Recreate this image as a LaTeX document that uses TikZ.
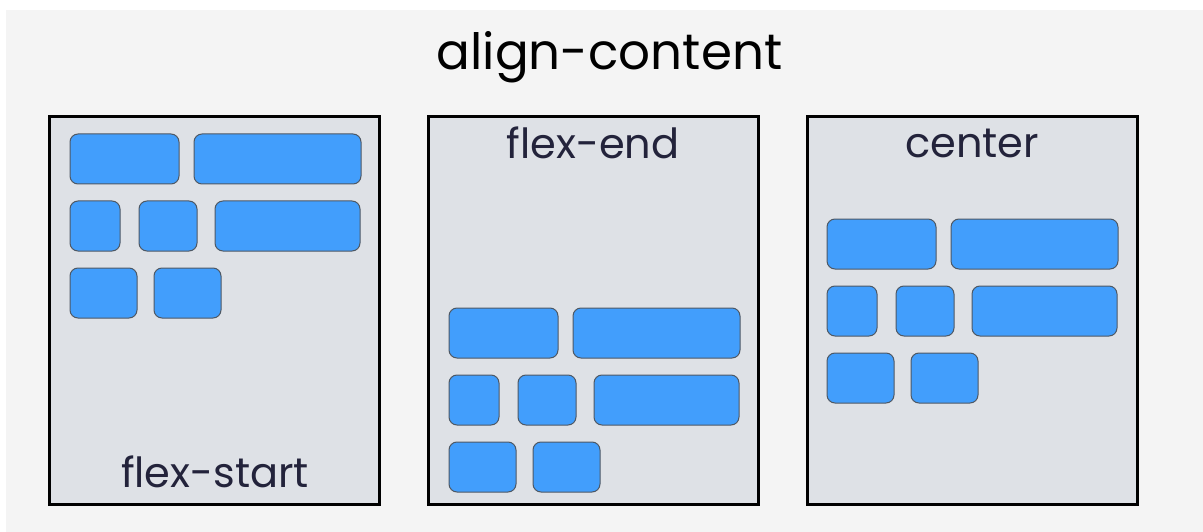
\documentclass[tikz,border=0pt]{standalone}
\usepackage{fontspec}
\setmainfont{Poppins}
\definecolor{pagebg}{HTML}{F4F4F4}
\definecolor{panelbg}{HTML}{DEE1E6}
\definecolor{itemblue}{HTML}{429EFC}
\definecolor{itemedge}{HTML}{4E5864}
\definecolor{labelink}{HTML}{23233B}
\tikzset{
  panel/.style={draw=black, line width=3pt, fill=panelbg, inner sep=0pt, outer sep=0pt, anchor=north west},
  item/.style={draw=itemedge, line width=1pt, fill=itemblue, rounded corners=8pt, inner sep=0pt, outer sep=0pt, anchor=north west},
  caption/.style={text=labelink, font=\fontsize{41.5}{44}\selectfont, anchor=base, inner sep=0pt},
  headline/.style={text=black, font=\fontsize{50}{54}\selectfont, anchor=base, inner sep=0pt}
}
% one flex item: name, left, top, width, height
\newcommand{\flexitem}[5]{\node[item, minimum width=#4pt, minimum height=#5pt] (#1) at (#2,#3) {};}
% the three wrapped rows of items inside a container, offset by (#2,#3)
\newcommand{\flexrows}[3]{%
  \flexitem{#1a}{#2+21}{#3}{109}{50}
  \flexitem{#1b}{#2+145}{#3}{167}{50}
  \flexitem{#1c}{#2+21}{#3+67}{50}{50}
  \flexitem{#1d}{#2+90}{#3+67}{58}{50}
  \flexitem{#1e}{#2+166}{#3+67}{145}{50}
  \flexitem{#1f}{#2+21}{#3+134}{67}{50}
  \flexitem{#1g}{#2+105}{#3+134}{67}{50}
}
\begin{document}
\begin{tikzpicture}[x=1pt,y=-1pt]
\useasboundingbox (0,0) rectangle (1203,532);
\fill[white] (0,0) rectangle (1203,532);
\fill[pagebg] (6,10) rectangle (1203,532);

\node[headline] (title) at (609.5,70) {align-content};

% containers
\node[panel, minimum width=330pt, minimum height=388pt] (start) at (49.5,116.5) {};
\node[panel, minimum width=330pt, minimum height=388pt] (end) at (428.5,116.5) {};
\node[panel, minimum width=330pt, minimum height=388pt] (mid) at (807.5,116.5) {};

% items
\flexrows{s}{49}{134}
\flexrows{e}{428}{308}
\flexrows{m}{806}{219}

% captions
\node[caption] (startlbl) at (215,487) {flex-start};
\node[caption] (endlbl) at (593,159) {flex-end};
\node[caption] (midlbl) at (972,158) {center};
\end{tikzpicture}
\end{document}
